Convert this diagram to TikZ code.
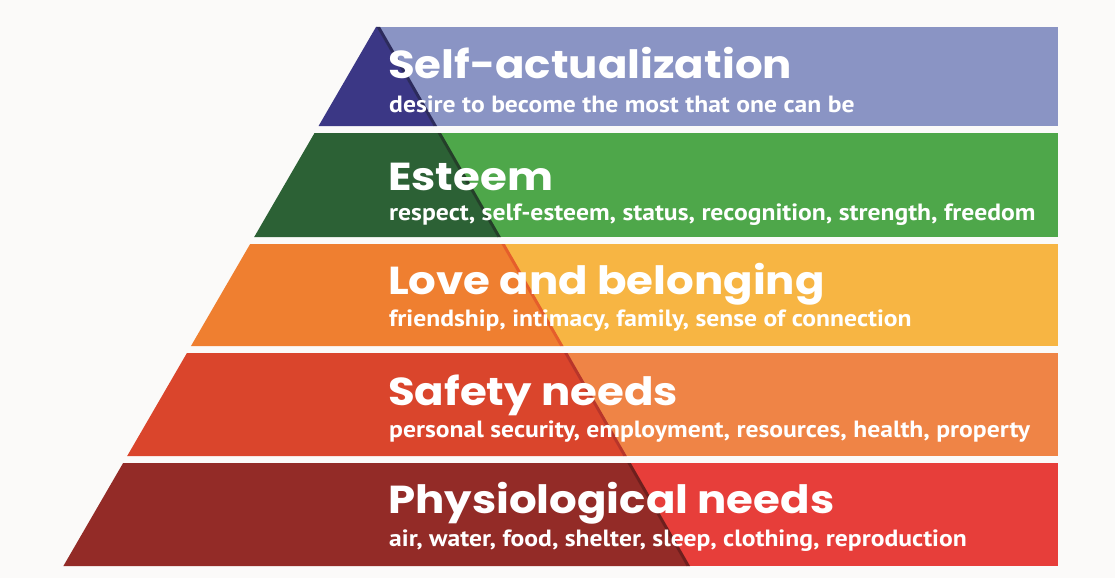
\documentclass[tikz,border=0pt]{standalone}
\usepackage{fontspec}
\newfontfamily\headfont{Poppins}[FakeStretch=1.115]
\newfontfamily\subfont{PT Sans}[FakeStretch=1.09]
\usetikzlibrary{calc}

\definecolor{paper}{HTML}{FBFAF9}
\definecolor{selfdark}{HTML}{3B3785}
\definecolor{selflight}{HTML}{8A94C4}
\definecolor{selfedge}{HTML}{2C2B5C}
\definecolor{esteemdark}{HTML}{2C6135}
\definecolor{esteemlight}{HTML}{4EA74A}
\definecolor{esteemedge}{HTML}{243F29}
\definecolor{lovedark}{HTML}{EF7F30}
\definecolor{lovelight}{HTML}{F7B543}
\definecolor{loveedge}{HTML}{E55E2B}
\definecolor{safedark}{HTML}{DA452C}
\definecolor{safelight}{HTML}{EF8446}
\definecolor{safeedge}{HTML}{B8352A}
\definecolor{physdark}{HTML}{932B27}
\definecolor{physlight}{HTML}{E73E3A}
\definecolor{physedge}{HTML}{6E1F1D}

\tikzset
{
    divider/.style  = {line width=3pt},
    title/.style    = {anchor=base west, inner sep=0pt, text=white, font=\headfont\bfseries\fontsize{39}{42}\selectfont},
    subtitle/.style = {anchor=base west, inner sep=0pt, text=white, font=\subfont\bfseries\fontsize{23.5}{26}\selectfont}
}

\begin{document}
\begin{tikzpicture}[x=1pt, y=-1pt]
\fill[paper] (0,0) rectangle (1115,578);
\newcommand\rightEdge{1058}
\newcommand\textX{388}
% one band per level, dark triangle on the left
\foreach \ytop/\ybot/\dark/\light/\edge/\tb/\sb/\headtext/\subtext/\name in {
    27/126/selfdark/selflight/selfedge/78/112/{Self-actualization}/{desire to become the most that one can be}/self,
    133/237/esteemdark/esteemlight/esteemedge/190/220/{Esteem}/{respect, self-esteem, status, recognition, strength, freedom}/esteem,
    244/346/lovedark/lovelight/loveedge/294/326/{Love and belonging}/{friendship, intimacy, family, sense of connection}/love,
    353/456/safedark/safelight/safeedge/405/437/{Safety needs}/{personal security, employment, resources, health, property}/safety,
    463/566/physdark/physlight/physedge/513/546/{Physiological needs}/{air, water, food, shelter, sleep, clothing, reproduction}/phys}
{
    \pgfmathsetmacro\lt{376-0.58*(\ytop-27)}
    \pgfmathsetmacro\lb{376-0.58*(\ybot-27)}
    \pgfmathsetmacro\dt{377+0.575*(\ytop-27)}
    \pgfmathsetmacro\db{377+0.575*(\ybot-27)}
    \begin{scope}
        \clip (\lt,\ytop) -- (\rightEdge,\ytop) -- (\rightEdge,\ybot) -- (\lb,\ybot) -- cycle;
        \fill[\light] (\lt,\ytop) rectangle (\rightEdge,\ybot);
        \fill[\dark] (\lt,\ytop) -- (\dt,\ytop) -- (\db,\ybot) -- (\lb,\ybot) -- cycle;
        \draw[divider,\edge] (\dt-1.5,\ytop-5) -- ++(0.575*10+0.575*\ybot-0.575*\ytop,\ybot-\ytop+10);
    \end{scope}
    \node[title] (\name-title) at (\textX,\tb) {\headtext};
    \node[subtitle] (\name-sub) at (\textX+1,\sb) {\subtext};
}
\end{tikzpicture}
\end{document}
